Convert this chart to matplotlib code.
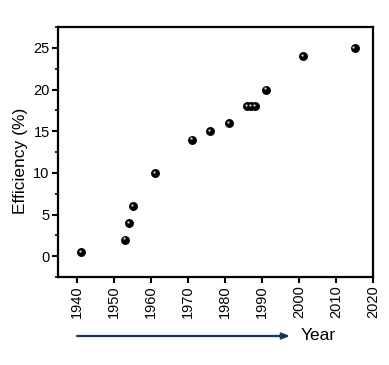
import matplotlib
matplotlib.use("Agg")
import matplotlib.pyplot as plt
import matplotlib.transforms as mtransforms
from matplotlib.ticker import MultipleLocator

plt.rcParams["font.family"] = ["Liberation Sans", "DejaVu Sans"]

# ── Data ───────────────────────────────────────────────────────────────────
years = [1941, 1953, 1954, 1955, 1961, 1971, 1976, 1981,
         1986, 1987, 1988, 1991, 2001, 2015]
efficiency = [0.5, 2, 4, 6, 10, 14, 15, 16, 18, 18, 18, 20, 24, 25]
x_ticks = [1940, 1950, 1960, 1970, 1980, 1990, 2000, 2010, 2020]
y_ticks = [0, 5, 10, 15, 20, 25]

# ── Figure ────────────────────────────────────────────────────────────────
fig = plt.figure(figsize=(3.89, 3.65), dpi=100)
ax = fig.add_axes([0.149, 0.241, 0.810, 0.685])

# spheres: black ball + small highlight
ax.plot(years, efficiency, "o", color="black", markersize=5.4, zorder=3)
hl = mtransforms.offset_copy(ax.transData, fig=fig, x=-0.8, y=0.8, units="points")
ax.plot(years, efficiency, "o", color="#d8d8d8", markersize=1.6,
        markeredgewidth=0, transform=hl, zorder=4)

ax.set_xlim(1934.8, 2020)
ax.set_ylim(-2.5, 27.5)
ax.set_xticks(x_ticks)
ax.set_xticklabels([str(t) for t in x_ticks], rotation=90, fontsize=10.5)
ax.set_yticks(y_ticks)
ax.set_yticklabels([str(t) for t in y_ticks], fontsize=10.5)
ax.yaxis.set_minor_locator(MultipleLocator(2.5))

for side in ["left", "bottom", "right", "top"]:
    ax.spines[side].set_linewidth(1.6)
ax.tick_params(axis="both", which="major", direction="out", length=4, width=1.5,
               top=False, right=False, pad=2)
ax.tick_params(axis="y", which="minor", direction="out", length=2.5, width=1.2)

ax.set_ylabel("Efficiency (%)", fontsize=12.5, labelpad=4, y=0.466)

# arrow + "Year"
ax.annotate("", xy=(290 / 389, 1 - 336 / 365), xytext=(77 / 389, 1 - 336 / 365),
            xycoords="figure fraction", textcoords="figure fraction",
            arrowprops=dict(arrowstyle="-|>,head_length=0.45,head_width=0.18",
                            color="#1b2f6b", lw=1.6, shrinkA=0, shrinkB=0))
fig.text(301 / 389, 1 - 336 / 365, "Year", fontsize=12.5, va="center", ha="left")

plt.savefig("out.png", dpi=100)
plt.close()
